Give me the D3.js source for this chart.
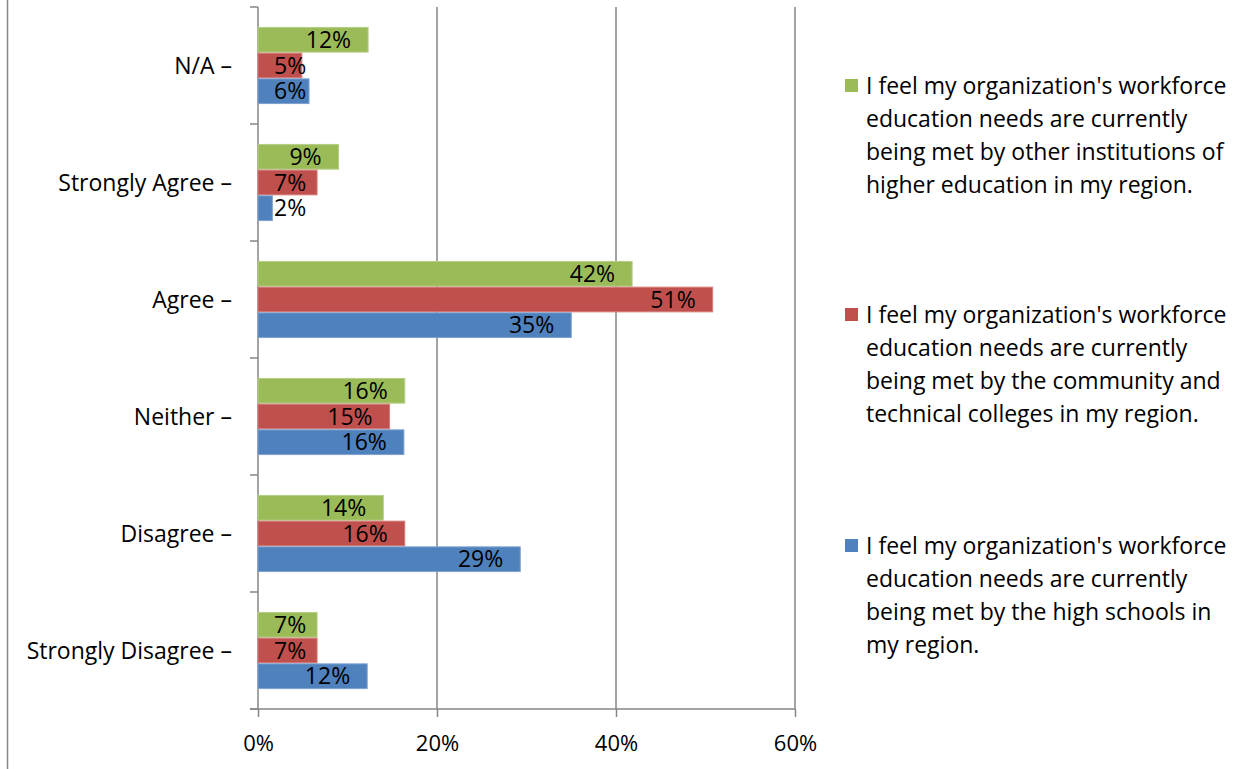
<!DOCTYPE html>
<html><head><meta charset="utf-8">
<script src="https://cdn.jsdelivr.net/npm/d3@7"></script>
<style>
html,body{margin:0;padding:0;background:#fff;}
svg text{font-family:"Open Sans",sans-serif;fill:#000;}
</style></head>
<body><svg id="c" width="1256" height="769"></svg>
<script>
const categories = ["N/A","Strongly Agree","Agree","Neither","Disagree","Strongly Disagree"];
const seriesKeys = ["other","community","high"];
const otherInstitutions = [12.3, 9.0, 41.8, 16.4, 14.0, 6.6];
const communityColleges = [4.9, 6.6, 50.8, 14.7, 16.4, 6.6];
const highSchools = [5.7, 1.6, 35.0, 16.3, 29.3, 12.2];
const xTicks = [0, 20, 40, 60];
const legendLines = [
  ["I feel my organization's workforce","education needs are currently","being met by other institutions of","higher education in my region."],
  ["I feel my organization's workforce","education needs are currently","being met by the community and","technical colleges in my region."],
  ["I feel my organization's workforce","education needs are currently","being met by the high schools in","my region."]
];
const colors = {other:"#9BBB59", community:"#C0504D", high:"#4F81BD"};
const strokes = {other:"#B5CE86", community:"#D47F7C", high:"#7EA1CF"};
const seriesValues = {other:otherInstitutions, community:communityColleges, high:highSchools};

const svg = d3.select("#c");
const FS = 23;
const FS_TICK = 22;
const x = d3.scaleLinear().domain([0,60]).range([258,795]);
const y = d3.scaleBand().domain(categories).range([7,709]).padding(0);
const inner = d3.scaleBand().domain(seriesKeys).range([0,y.bandwidth()]).paddingInner(0).paddingOuter(0.775);
const gridColor = "#868686";

// left border
svg.append("line").attr("x1",7.5).attr("x2",7.5).attr("y1",0).attr("y2",769).attr("stroke",gridColor).attr("stroke-width",1.5);

// gridlines
svg.append("g").selectAll("line").data(xTicks.filter(d=>d>0)).join("line")
  .attr("x1",d=>x(d)).attr("x2",d=>x(d)).attr("y1",7).attr("y2",709)
  .attr("stroke",gridColor).attr("stroke-width",1.5);

// x axis
const xAxis = svg.append("g").attr("transform","translate(0,709)")
  .call(d3.axisBottom(x).tickValues(xTicks).tickFormat(d=>d+"%").tickSizeInner(8).tickSizeOuter(0));
xAxis.select(".domain").remove();
xAxis.selectAll(".tick line").attr("stroke",gridColor).attr("stroke-width",1.5);
xAxis.selectAll(".tick text").attr("font-size",FS_TICK).attr("font-family","Open Sans").attr("y",42).attr("dy",0);
svg.append("line").attr("x1",250).attr("x2",795).attr("y1",709).attr("y2",709).attr("stroke",gridColor).attr("stroke-width",1.5);

// y axis
svg.append("line").attr("x1",258).attr("x2",258).attr("y1",7).attr("y2",709).attr("stroke",gridColor).attr("stroke-width",1.5);
const bounds = categories.map(c=>y(c)).concat([y(categories[categories.length-1])+y.bandwidth()]);
svg.append("g").selectAll("line").data(bounds).join("line")
  .attr("x1",250).attr("x2",258).attr("y1",d=>d).attr("y2",d=>d)
  .attr("stroke",gridColor).attr("stroke-width",1.5);
svg.append("g").selectAll("text").data(categories).join("text")
  .attr("x",232).attr("y",d=>y(d)+y.bandwidth()/2).attr("dy","0.35em")
  .attr("text-anchor","end").attr("font-size",FS).text(d=>d+" \u2013");

// bars
const groups = svg.append("g").selectAll("g").data(categories).join("g")
  .attr("transform",d=>`translate(0,${y(d)})`);
const items = groups.selectAll("g").data((c,i)=>seriesKeys.map(k=>({k, v:seriesValues[k][i]}))).join("g");
items.append("rect")
  .attr("x",x(0)).attr("y",d=>inner(d.k)+0.5).attr("width",d=>x(d.v)-x(0)).attr("height",inner.bandwidth()-1)
  .attr("fill",d=>colors[d.k]).attr("stroke",d=>strokes[d.k]).attr("stroke-width",1);
items.append("text")
  .attr("y",d=>inner(d.k)+inner.bandwidth()/2).attr("dy","0.36em")
  .attr("text-anchor","end").attr("font-size",FS)
  .text(d=>Math.round(d.v)+"%")
  .each(function(d){
    const w = this.getComputedTextLength();
    d3.select(this).attr("x", Math.max(x(d.v)-17, x(0)+16+w));
  });

// legend
const legendTop = [86, 315, 546];
const lg = svg.append("g").selectAll("g").data(seriesKeys).join("g")
  .attr("transform",(d,i)=>`translate(0,${legendTop[i]})`);
lg.append("rect").attr("x",845).attr("y",-7).attr("width",13).attr("height",13).attr("fill",d=>colors[d]);
lg.append("text").attr("font-size",FS)
  .selectAll("tspan").data((d,i)=>legendLines[i]).join("tspan")
  .attr("x",866).attr("y",(d,j)=>j*33).attr("dy","0.35em").text(d=>d);
</script></body></html>
